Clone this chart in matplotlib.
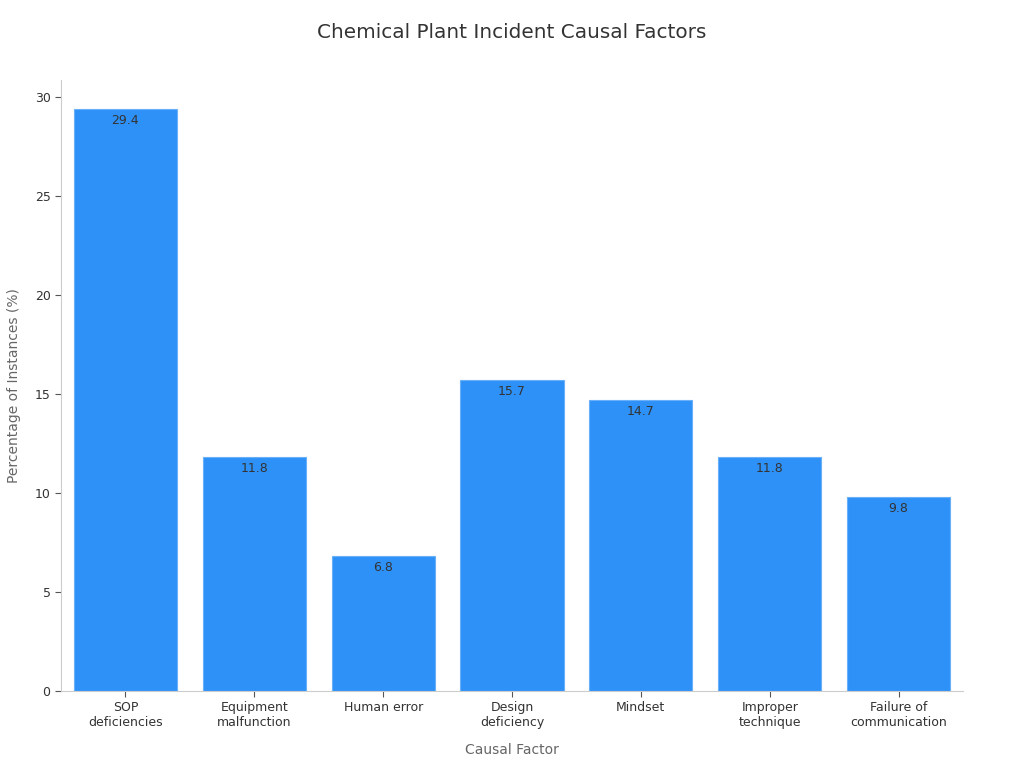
import matplotlib
matplotlib.use("Agg")
import matplotlib.pyplot as plt

plt.rcParams["font.family"] = ["DejaVu Sans"]

categories = ["SOP\ndeficiencies", "Equipment\nmalfunction", "Human error", "Design\ndeficiency",
              "Mindset", "Improper\ntechnique", "Failure of\ncommunication"]
values = [29.4, 11.8, 6.8, 15.7, 14.7, 11.8, 9.8]
yticks = [0, 5, 10, 15, 20, 25, 30]

fig = plt.figure(figsize=(10.24, 7.68), dpi=100)
ax = fig.add_axes([61/1024, 1-691/768, (963-61)/1024, (691-80)/768])

x = list(range(len(categories)))
bars = ax.bar(x, values, width=0.8, color="#2E91F7", edgecolor="#6AB0F8", linewidth=0.8)
for xi, v in zip(x, values):
    ax.text(xi, v - 0.25, f"{v}", ha="center", va="top", fontsize=9, color="#333333")

ax.set_xlim(-0.5, len(categories) - 0.5)
ax.set_ylim(0, max(values) * 1.05)
ax.set_yticks(yticks)
ax.set_xticks(x)
ax.set_xticklabels(categories, fontsize=9, color="#333333")
ax.tick_params(axis="y", labelsize=9, labelcolor="#333333", color="#555555", length=4)
ax.tick_params(axis="x", color="#555555", length=4)
for s in ["top", "right"]:
    ax.spines[s].set_visible(False)
for s in ["left", "bottom"]:
    ax.spines[s].set_color("#CCCCCC")
ax.set_xlabel("Causal Factor", fontsize=10, color="#666666", labelpad=10)
ax.set_ylabel("Percentage of Instances (%)", fontsize=10, color="#666666", labelpad=10)
fig.text(0.5, 1-33/768, "Chemical Plant Incident Causal Factors", ha="center", va="center",
         fontsize=14.4, color="#333333")

fig.savefig("out.png", dpi=100)
